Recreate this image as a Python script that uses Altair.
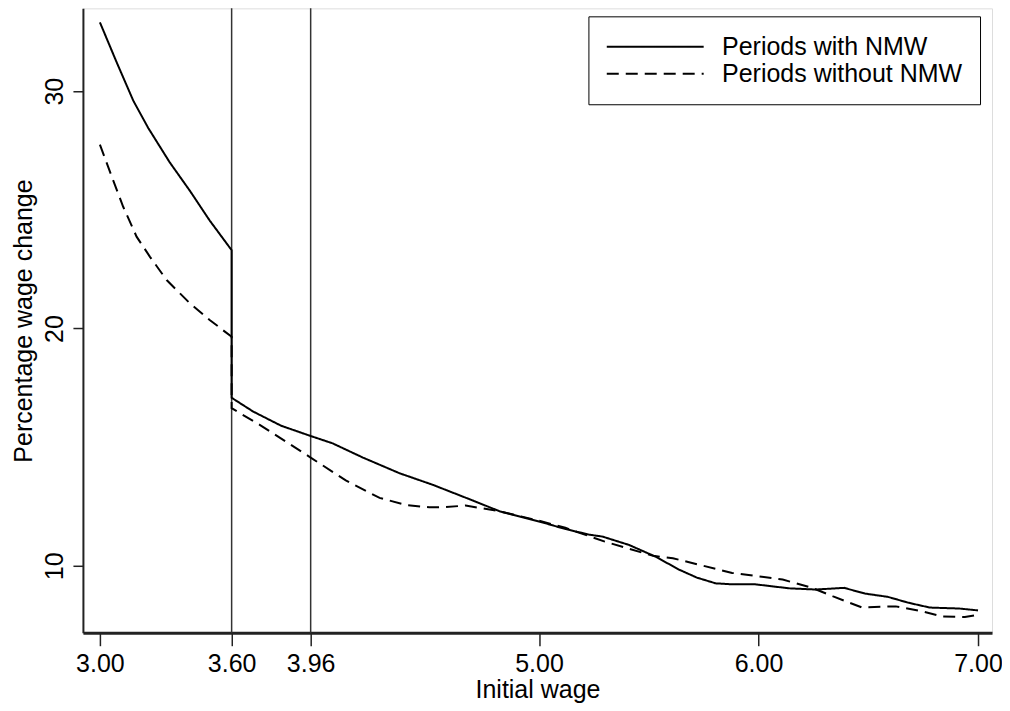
import altair as alt
import pandas as pd

series_names = ["Periods with NMW", "Periods without NMW"]

with_x = [3.00, 3.077, 3.152, 3.22, 3.318, 3.41, 3.50, 3.60, 3.60, 3.698, 3.826, 3.96,
          4.06, 4.198, 4.365, 4.517, 4.699, 4.82, 5.00, 5.12, 5.23, 5.29, 5.41, 5.53,
          5.64, 5.72, 5.805, 5.88, 5.985, 6.14, 6.26, 6.39, 6.485, 6.59, 6.68, 6.78,
          6.914, 7.00]
with_y = [32.9, 31.2, 29.6, 28.45, 27.0, 25.8, 24.55, 23.3, 17.08, 16.5, 15.9, 15.47,
          15.16, 14.56, 13.9, 13.41, 12.75, 12.3, 11.87, 11.55, 11.31, 11.23, 10.88, 10.39,
          9.83, 9.5, 9.26, 9.22, 9.22, 9.05, 9.0, 9.07, 8.83, 8.69, 8.45, 8.24,
          8.2, 8.12]

without_x = [3.00, 3.06, 3.106, 3.167, 3.228, 3.304, 3.41, 3.50, 3.60, 3.60, 3.728, 3.96,
             4.12, 4.274, 4.40, 4.50, 4.57, 4.666, 4.82, 5.00, 5.12, 5.30, 5.52, 5.61,
             5.88, 6.11, 6.245, 6.34, 6.47, 6.625, 6.745, 6.836, 6.94, 7.00]
without_y = [27.75, 26.25, 25.13, 23.87, 23.02, 22.04, 21.06, 20.36, 19.65, 16.64, 15.94, 14.56,
             13.6, 12.86, 12.55, 12.47, 12.47, 12.54, 12.3, 11.9, 11.6, 11.02, 10.42, 10.32,
             9.7, 9.42, 9.07, 8.71, 8.25, 8.29, 8.08, 7.87, 7.84, 7.94]

x_ticks = [3.00, 3.60, 3.96, 5.00, 6.00, 7.00]
y_ticks = [10, 20, 30]
min_wage_lines = [3.60, 3.96]

rows = []
for i, (x, y) in enumerate(zip(with_x, with_y)):
    rows.append({"wage": x, "change": y, "series": series_names[0], "idx": i})
for i, (x, y) in enumerate(zip(without_x, without_y)):
    rows.append({"wage": x, "change": y, "series": series_names[1], "idx": i})
df = pd.DataFrame(rows)
rules_df = pd.DataFrame({"wage": min_wage_lines})

FONT = "Liberation Sans"
FS = 25
x_scale = alt.Scale(domain=[2.9226, 7.0637], nice=False, zero=False)
y_scale = alt.Scale(domain=[7.18, 33.49], nice=False, zero=False)

x_axis = alt.Axis(values=x_ticks, format=".2f", title="Initial wage", grid=False,
                  labelFont=FONT, titleFont=FONT, labelFontSize=FS, titleFontSize=FS,
                  titleFontWeight="normal", labelColor="black", titleColor="black",
                  tickColor="#222", tickSize=13, tickWidth=1.5, domainColor="#222",
                  domainWidth=3, labelPadding=6, titleBaseline="alphabetic", titleY=65,
                  labelFlush=False, labelOverlap=False)
y_axis = alt.Axis(values=y_ticks, title="Percentage wage change", grid=False,
                  labelFont=FONT, titleFont=FONT, labelFontSize=FS, titleFontSize=FS,
                  titleFontWeight="normal", labelColor="black", titleColor="black",
                  labelAngle=270, labelAlign="center", labelBaseline="bottom",
                  tickColor="#222", tickSize=10, tickWidth=1.5, domainColor="#222",
                  domainWidth=2, labelPadding=5, titlePadding=6)

rules = alt.Chart(rules_df).mark_rule(color="#333", strokeWidth=1.5).encode(
    x=alt.X("wage:Q", scale=x_scale, axis=x_axis)
)

# custom stroke symbol: spans from -r to 7r (8r = 97 px long), r = sqrt(size)/2
sym_r = 97 / 8
lines = alt.Chart(df).mark_line(color="black", strokeWidth=2, clip=True).encode(
    x=alt.X("wage:Q", scale=x_scale, axis=x_axis),
    y=alt.Y("change:Q", scale=y_scale, axis=y_axis),
    strokeDash=alt.StrokeDash(
        "series:N",
        scale=alt.Scale(domain=series_names, range=[[1, 0], [12, 7]]),
        legend=alt.Legend(title=None, orient="none", legendX=506, legendY=8,
                          symbolType="M-1,0H7", symbolSize=(2 * sym_r) ** 2,
                          symbolStrokeWidth=2, symbolStrokeColor="black",
                          symbolFillColor="transparent",
                          labelFont=FONT, labelFontSize=FS, labelColor="black",
                          labelOffset=6 * sym_r + 17, strokeColor="black",
                          padding=17, rowPadding=0, labelLimit=400),
    ),
    order=alt.Order("idx:Q"),
)

chart = alt.layer(rules, lines).properties(
    width=910, height=625,
    autosize=alt.AutoSizeParams(type="none"),
    padding={"left": 75, "top": 0, "right": 10, "bottom": 70},
).configure_view(stroke="#222", strokeWidth=1.5).configure(background="white")

chart.save("out.html", embed_options={"renderer": "svg", "actions": False})
